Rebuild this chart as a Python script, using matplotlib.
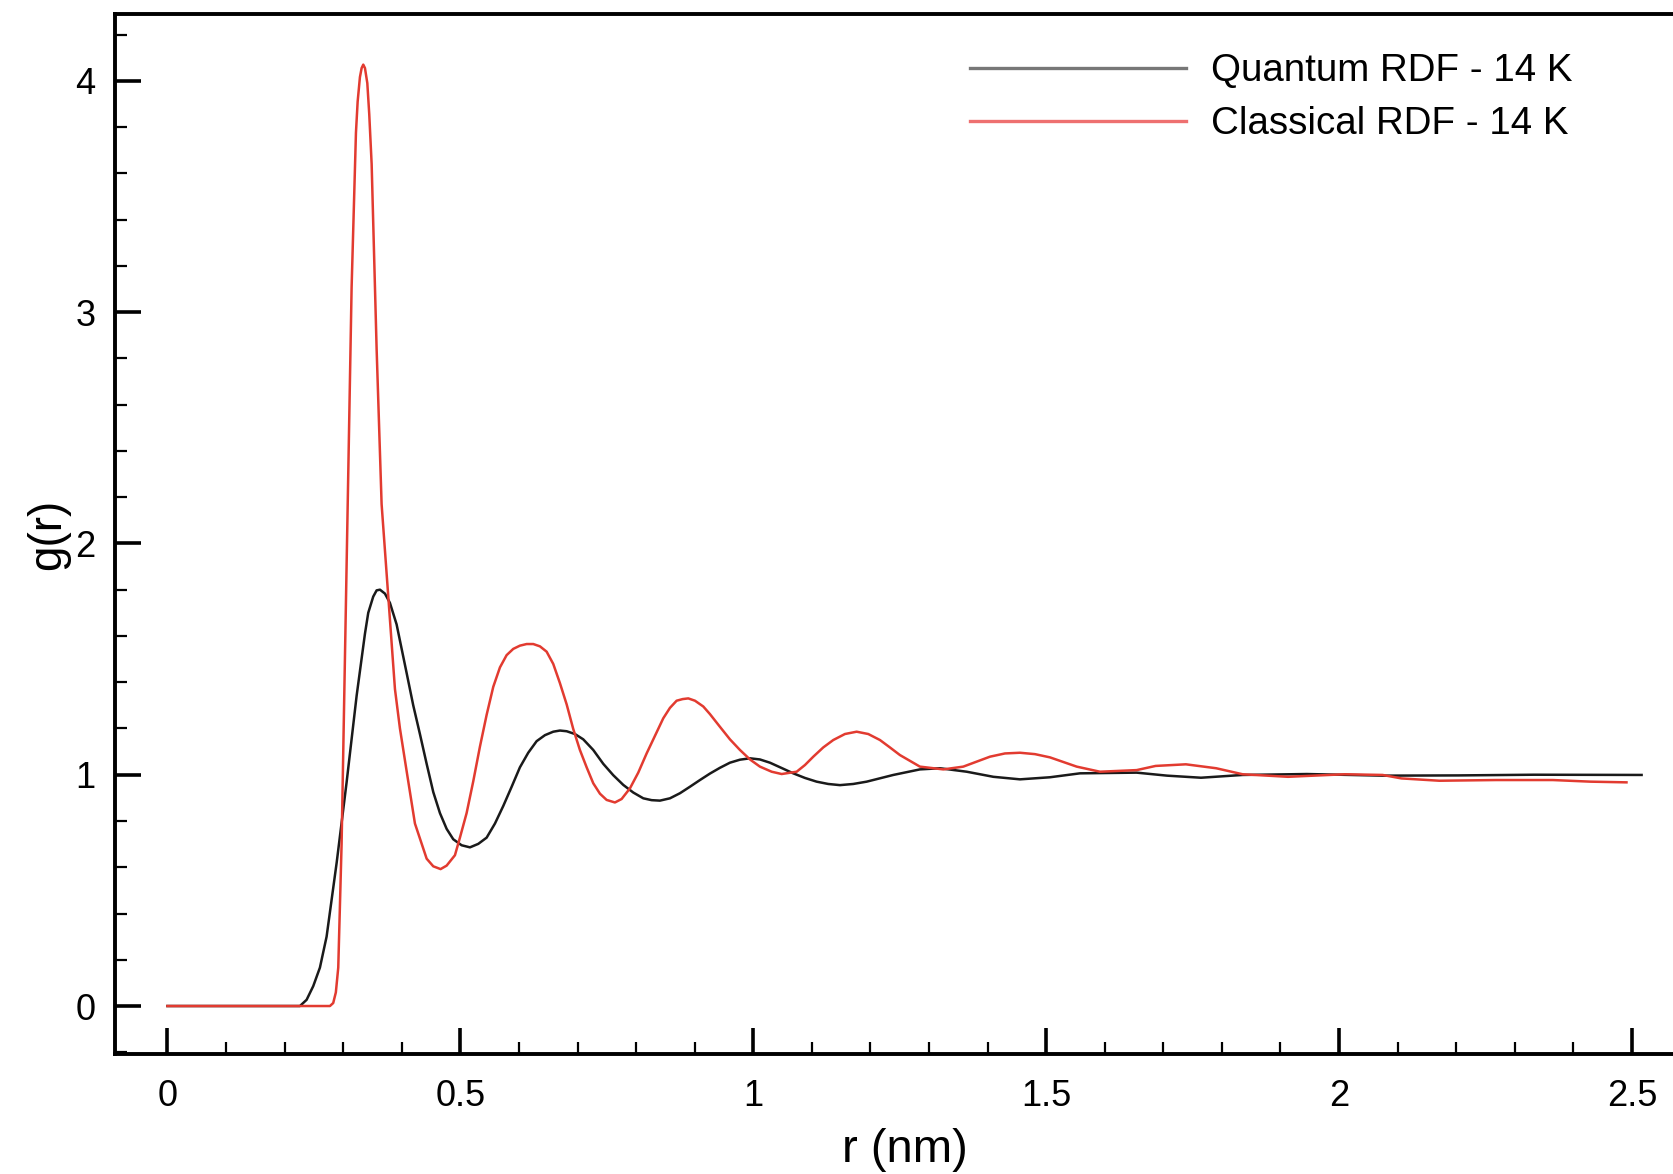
import matplotlib
matplotlib.use("Agg")
import matplotlib.pyplot as plt
from matplotlib.ticker import MultipleLocator

plt.rcParams['font.family'] = ['Liberation Sans', 'DejaVu Sans']

# Quantum RDF - 14 K (black)
r_quantum = [0.0, 0.10, 0.20, 0.2262, 0.2376, 0.2489, 0.2603, 0.2717, 0.2889, 0.3059,
             0.3230, 0.3372, 0.3428, 0.3513, 0.3571, 0.3628, 0.3713, 0.3798, 0.3912,
             0.3969, 0.4083, 0.4196, 0.4310, 0.4425, 0.4538, 0.4652, 0.4766, 0.4879,
             0.5022, 0.5164, 0.5306, 0.5449, 0.5591, 0.5733, 0.5876, 0.6017, 0.6159,
             0.6302, 0.6444, 0.6586, 0.6700, 0.6815, 0.6956, 0.7098, 0.7269, 0.7440,
             0.7610, 0.7781, 0.7952, 0.8123, 0.8266, 0.8407, 0.8578, 0.8749, 0.8919,
             0.9090, 0.9261, 0.9432, 0.9602, 0.9773, 0.9944, 1.0114, 1.0285, 1.0485,
             1.0683, 1.0883, 1.1082, 1.128, 1.148, 1.1707, 1.1936, 1.239, 1.2845,
             1.3187, 1.3643, 1.4098, 1.4553, 1.5065, 1.5577, 1.6545, 1.7063, 1.7643,
             1.8353, 1.945, 2.0742, 2.2033, 2.3325, 2.5164]
g_quantum = [0.0, 0.0, 0.0, 0.0, 0.027, 0.086, 0.166, 0.30, 0.62, 0.968,
             1.342, 1.61, 1.70, 1.77, 1.797, 1.80, 1.783, 1.743, 1.65,
             1.58, 1.44, 1.30, 1.176, 1.047, 0.925, 0.834, 0.766, 0.721,
             0.695, 0.686, 0.701, 0.728, 0.789, 0.865, 0.948, 1.032, 1.095,
             1.145, 1.171, 1.186, 1.191, 1.188, 1.176, 1.153, 1.107, 1.047,
             0.998, 0.956, 0.923, 0.898, 0.890, 0.888, 0.898, 0.920, 0.948,
             0.977, 1.005, 1.030, 1.052, 1.065, 1.071, 1.066, 1.052, 1.029,
             1.006, 0.986, 0.970, 0.960, 0.955, 0.960, 0.970, 0.999, 1.023,
             1.028, 1.013, 0.991, 0.980, 0.989, 1.006, 1.009, 0.996, 0.987,
             0.999, 1.003, 0.996, 0.997, 1.000, 0.999]

# Classical RDF - 14 K (red)
r_classical = [0.0, 0.10, 0.20, 0.2774, 0.2830, 0.2875, 0.2916, 0.2973, 0.3030, 0.3087,
               0.3144, 0.3218, 0.3247, 0.3286, 0.3315, 0.3343, 0.3372, 0.3412, 0.3445,
               0.3486, 0.3571, 0.3656, 0.3770, 0.3884, 0.3969, 0.4083, 0.4225, 0.4425,
               0.4538, 0.4663, 0.4766, 0.4908, 0.4993, 0.5107, 0.5220, 0.5335, 0.5449,
               0.5562, 0.5676, 0.5790, 0.5903, 0.6017, 0.6132, 0.6245, 0.6359, 0.6473,
               0.6586, 0.6700, 0.6815, 0.6927, 0.7041, 0.7156, 0.7269, 0.7383, 0.7497,
               0.7639, 0.7753, 0.7895, 0.8037, 0.8180, 0.8322, 0.8464, 0.8578, 0.8692,
               0.8795, 0.8891, 0.9005, 0.9147, 0.9261, 0.9432, 0.9602, 0.9773, 0.9944,
               1.0114, 1.0314, 1.0485, 1.0741, 1.0883, 1.1025, 1.1195, 1.1366, 1.1565,
               1.1765, 1.1963, 1.2163, 1.2333, 1.2504, 1.2845, 1.3244, 1.3585, 1.4041,
               1.4297, 1.4553, 1.4809, 1.5065, 1.5521, 1.5918, 1.6545, 1.6868, 1.7385,
               1.7902, 1.8353, 1.9128, 2.0097, 2.0742, 2.1065, 2.171, 2.268, 2.3648,
               2.4293, 2.4906]
g_classical = [0.0, 0.0, 0.0, 0.0, 0.013, 0.059, 0.166, 0.70, 1.503, 2.305,
               3.107, 3.775, 3.91, 4.016, 4.055, 4.07, 4.055, 3.99, 3.856,
               3.64, 2.84, 2.17, 1.77, 1.37, 1.20, 1.016, 0.789, 0.637,
               0.604, 0.592, 0.607, 0.652, 0.728, 0.834, 0.971, 1.122, 1.259,
               1.380, 1.464, 1.517, 1.544, 1.558, 1.565, 1.565, 1.555, 1.532,
               1.479, 1.396, 1.304, 1.198, 1.107, 1.032, 0.963, 0.918, 0.891,
               0.880, 0.895, 0.941, 1.009, 1.092, 1.168, 1.244, 1.289, 1.320,
               1.327, 1.330, 1.320, 1.295, 1.262, 1.207, 1.153, 1.107, 1.066,
               1.035, 1.013, 1.003, 1.013, 1.042, 1.078, 1.118, 1.150, 1.176,
               1.186, 1.176, 1.150, 1.118, 1.085, 1.035, 1.023, 1.035, 1.078,
               1.092, 1.095, 1.089, 1.075, 1.035, 1.013, 1.020, 1.038, 1.045,
               1.028, 1.002, 0.991, 1.002, 0.999, 0.984, 0.974, 0.977, 0.977,
               0.970, 0.967]

labels = ["Quantum RDF - 14 K", "Classical RDF - 14 K"]
x_ticks = [0, 0.5, 1, 1.5, 2, 2.5]
x_ticklabels = ["0", "0.5", "1", "1.5", "2", "2.5"]
y_ticks = [0, 1, 2, 3, 4]
y_ticklabels = ["0", "1", "2", "3", "4"]

fig = plt.figure(figsize=(16.73, 11.74), dpi=100)
ax = fig.add_axes([0.0687, 0.1022, 1.0 - 0.0687, 0.9881 - 0.1022])

ax.plot(r_quantum, g_quantum, color='#1a1a1a', lw=1.8, label=labels[0], zorder=2)
ax.plot(r_classical, g_classical, color='#e23b30', lw=1.8, label=labels[1], zorder=3)

ax.set_xlim(-0.0896, 2.570)
ax.set_ylim(-0.2075, 4.289)

ax.set_xticks(x_ticks)
ax.set_xticklabels(x_ticklabels)
ax.set_yticks(y_ticks)
ax.set_yticklabels(y_ticklabels)
ax.xaxis.set_minor_locator(MultipleLocator(0.1))
ax.yaxis.set_minor_locator(MultipleLocator(0.2))

ax.tick_params(which='major', direction='in', length=19, width=2.6, labelsize=26,
               top=False, right=False)
ax.tick_params(which='minor', direction='in', length=8.5, width=1.6,
               top=False, right=False)
ax.tick_params(axis='x', which='major', pad=18)
ax.tick_params(axis='y', which='major', pad=14)

for side in ['left', 'bottom', 'top']:
    ax.spines[side].set_linewidth(2.8)
ax.spines['right'].set_visible(False)

ax.set_xlabel("r (nm)", fontsize=34, labelpad=10)
ax.xaxis.label.set_x(0.507)
ax.set_ylabel("g(r)", fontsize=33, labelpad=4)

leg = ax.legend(loc='upper left', bbox_to_anchor=(0.549, 0.962), frameon=False,
                fontsize=27.7, handlelength=5.6, handletextpad=0.65,
                labelspacing=0.44, borderaxespad=0, borderpad=0)
leg.legend_handles[0].set_color('#777777')
leg.legend_handles[0].set_linewidth(2.4)
leg.legend_handles[1].set_color('#ee7070')
leg.legend_handles[1].set_linewidth(2.4)

fig.savefig("out.png", dpi=100)
